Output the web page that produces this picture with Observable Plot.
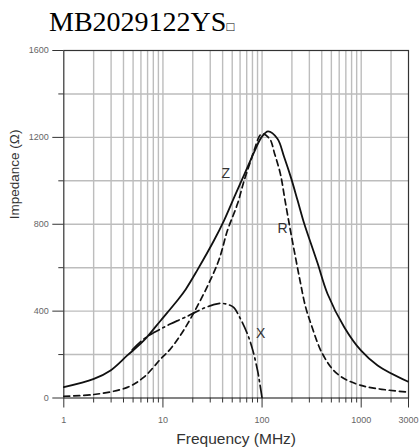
<!DOCTYPE html>
<html><head><meta charset="utf-8">
<script src="https://cdn.jsdelivr.net/npm/d3@7"></script>
<script src="https://cdn.jsdelivr.net/npm/@observablehq/plot@0.6"></script>
<style>
html,body{margin:0;padding:0;background:#fff}
body{width:419px;height:447px;overflow:hidden}
#title{box-sizing:border-box;height:38px;padding:7.5px 0 0 49px;font-family:"Liberation Serif",serif;font-size:28px;line-height:28px;color:#000;white-space:nowrap;text-align:left}
#title .sq{font-size:13px}
#chart{height:409px}
#chart svg{display:block}
</style></head><body>
<div id="title">MB2029122YS<span class="sq">□</span></div>
<div id="chart"></div>
<script>
const freqZ = [1, 2.01, 2.96, 4.37, 6.43, 9.5, 13.97, 16.95, 22.3, 32.7, 41.3, 52.4, 66.6, 84.5, 98.8, 115, 143, 167, 195, 228, 266, 311, 364, 457, 675, 993, 1465, 2950];
const impZ  = [50, 88, 127, 196, 265, 357, 449, 500, 590, 725, 817, 925, 1032, 1139, 1201, 1228, 1194, 1110, 1017, 910, 803, 711, 619, 480, 326, 219, 150, 76];

const freqR = [1, 2.01, 4.37, 6.43, 9.5, 11.9, 17.7, 35.5, 44.8, 56.5, 65.9, 77, 83, 99, 119, 134, 153, 171, 192, 216, 243, 273, 311, 407, 575, 993, 2950];
const impR  = [8, 16, 49, 96, 180, 226, 341, 618, 772, 894, 1001, 1093, 1139, 1216, 1194, 1124, 1032, 906, 778, 654, 534, 424, 342, 203, 111, 58, 27];

const freqX = [4.9, 6.43, 8, 9.5, 12, 15, 18.3, 20.6, 26, 32, 38, 45, 52, 60, 71, 80, 90, 95, 100];
const impX  = [222, 272, 300, 318, 342, 362, 380, 392, 414, 429, 436, 431, 416, 368, 296, 225, 127, 65, 0];

const curveNames = ["Z", "R", "X"];
const labelFreq = [43, 161, 97];
const labelImp = [1034, 779, 297];

const xMajorTicks = [1, 10, 100, 1000, 3000];
const xTickLabels = ["1", "10", "100", "1000", "3000"];
const xMinorTicks = [2,3,4,5,6,7,8,9,20,30,40,50,60,70,80,90,200,300,400,500,600,700,800,900,2000];
const yMajorTicks = [0, 400, 800, 1200, 1600];
const yMinorTicks = [200, 600, 1000, 1400];
const yGrid = [200, 400, 600, 800, 1000, 1200, 1400];
const xAxisTitle = "Frequency (MHz)";
const yAxisTitle = "Impedance (Ω)";

const Z = freqZ.map((f, i) => ({f, v: impZ[i]}));
const R = freqR.map((f, i) => ({f, v: impR[i]}));
const X = freqX.map((f, i) => ({f, v: impX[i]}));
const labels = curveNames.map((t, i) => ({t, f: labelFreq[i], v: labelImp[i]}));

const chart = Plot.plot({
  width: 419, height: 409,
  marginTop: 12, marginBottom: 49.5, marginLeft: 63.3, marginRight: 11,
  x: {type: "log", domain: [1, 3000]},
  y: {domain: [0, 1600]},
  style: {fontFamily: "'Liberation Sans', Arial, sans-serif", background: "white", overflow: "visible"},
  marks: [
    Plot.ruleX(xMinorTicks.concat([10, 100, 1000]), {stroke: "#bdbdbd", strokeWidth: 1.4}),
    Plot.ruleY(yGrid, {stroke: "#bdbdbd", strokeWidth: 1.4}),
    Plot.frame({stroke: "#333", strokeWidth: 1.2}),
    Plot.axisX({ticks: xMinorTicks.concat([3000]), tickSize: 5, tickFormat: () => "", label: null, stroke: "#333"}),
    Plot.axisX({ticks: xMajorTicks, tickSize: 10, tickPadding: 9, tickFormat: (d) => xTickLabels[xMajorTicks.indexOf(+d)], label: null, stroke: "#333", fill: "#666", fontSize: 9}),
    Plot.axisY({ticks: yMinorTicks, tickSize: 5, tickFormat: () => "", label: null, stroke: "#333"}),
    Plot.axisY({ticks: yMajorTicks, tickSize: 11, tickPadding: 4, tickFormat: (d) => String(d), label: null, stroke: "#333", fill: "#666", fontSize: 9}),
    Plot.text([xAxisTitle], {frameAnchor: "bottom", dy: 45.5, fontSize: 15.5, fill: "#333"}),
    Plot.text([yAxisTitle], {frameAnchor: "left", rotate: -90, dx: -49, dy: -5, fontSize: 13.5, fill: "#333"}),
    Plot.line(R, {x: "f", y: "v", stroke: "#111", strokeWidth: 1.7, strokeDasharray: "6,4", curve: "catmull-rom"}),
    Plot.line(X, {x: "f", y: "v", stroke: "#111", strokeWidth: 1.7, strokeDasharray: "12,4,2,4", curve: "catmull-rom"}),
    Plot.line(Z, {x: "f", y: "v", stroke: "#111", strokeWidth: 1.8, curve: "catmull-rom"}),
    Plot.text(labels, {x: "f", y: "v", text: "t", fontSize: 14, fill: "#333"})
  ]
});
document.getElementById("chart").appendChild(chart);
</script>
</body></html>
